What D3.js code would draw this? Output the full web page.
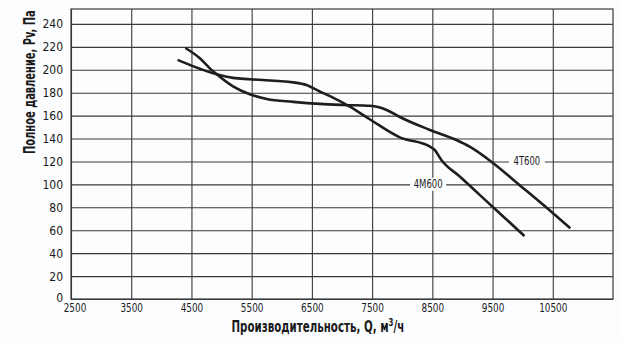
<!DOCTYPE html>
<html>
<head>
<meta charset="utf-8">
<script src="https://cdn.jsdelivr.net/npm/d3@7"></script>
<style>
  html, body { margin: 0; padding: 0; background: #fcfdff; }
  svg { display: block; }
  .narrow { font-family: 'Liberation Sans Narrow', 'DejaVu Sans Condensed', 'Roboto', sans-serif; }
</style>
</head>
<body>
<svg id="chart" width="621" height="342"></svg>
<script>
// Airflow Q (m³/h) versus total pressure Pv (Pa) for two fans
const series4T600 = [
  [4400, 219], [4640, 210], [4810, 201], [4920, 196], [5190, 185.5],
  [5470, 178.6], [5750, 174.5], [6190, 172], [6630, 170.2], [7020, 169.3],
  [7460, 168.6], [7600, 167.6], [7760, 164.5], [7960, 158.8], [8460, 147.5],
  [8900, 138.7], [9120, 132.9], [9480, 119.8], [9950, 99.3], [10500, 75], [10790, 61.7]
];
const series4M600 = [
  [4270, 208.6], [4920, 196], [5190, 192.9], [5470, 191.7], [6190, 189],
  [6410, 186.7], [6630, 181], [6800, 177], [7130, 167.8], [7460, 156.8],
  [7960, 141], [8460, 132.9], [8540, 130], [8650, 121.3], [8960, 106.7],
  [9500, 80.5], [10030, 55]
];
const seriesNames = ["4T600", "4M600"];
// label anchors, in data units (Q, Pv)
const labelAnchors = [[10070, 120], [8430, 100]];

const xTicks = [2500, 3500, 4500, 5500, 6500, 7500, 8500, 9500, 10500];
const yTicks = [0, 20, 40, 60, 80, 100, 120, 140, 160, 180, 200, 220, 240];
const xTitle = "Производительность, Q, м";
const yTitle = "Полное давление, Pv, Па";

const svg = d3.select("#chart");
const plotL = 71, plotR = 613, plotT = 9, plotB = 299;
const x = d3.scaleLinear().domain([2500, 11500]).range([plotL, plotR]);
const y = d3.scaleLinear().domain([0, 253]).range([plotB, plotT]);

const gridColor = "#3a3a3a";

// vertical grid + x tick labels
const xAxis = svg.append("g")
  .attr("transform", `translate(0,${plotB})`)
  .call(d3.axisBottom(x).tickValues(xTicks).tickSize(-(plotB - plotT)).tickPadding(3)
        .tickFormat(d3.format("d")));
xAxis.select(".domain").remove();
xAxis.selectAll(".tick line").attr("stroke", gridColor).attr("stroke-width", 1.1);
xAxis.selectAll(".tick text")
  .attr("class", "narrow")
  .attr("font-size", 13)
  .attr("fill", "#1a1a1a")
  .attr("dy", "0.78em")
  .attr("transform", (d, i) => `translate(${i === 0 ? 3.5 : 0},0) scale(0.76,1)`);

// horizontal grid + y tick labels
const yAxis = svg.append("g")
  .attr("transform", `translate(${plotL},0)`)
  .call(d3.axisLeft(y).tickValues(yTicks).tickSize(-(plotR - plotL)).tickPadding(8));
yAxis.select(".domain").remove();
yAxis.selectAll(".tick line").attr("stroke", gridColor).attr("stroke-width", 1.1);
yAxis.selectAll(".tick text")
  .attr("class", "narrow")
  .attr("font-size", 12)
  .attr("fill", "#1a1a1a")
  .attr("dy", (d) => d === 0 ? "0.2em" : "0.34em");

// plot frame
svg.append("rect")
  .attr("x", plotL).attr("y", plotT)
  .attr("width", plotR - plotL).attr("height", plotB - plotT)
  .attr("fill", "none").attr("stroke", gridColor).attr("stroke-width", 1.2);

// characteristic curves
const line = d3.line()
  .x(d => x(d[0])).y(d => y(d[1]))
  .curve(d3.curveMonotoneX);

[series4T600, series4M600].forEach(s => {
  svg.append("path")
    .datum(s)
    .attr("d", line)
    .attr("fill", "none")
    .attr("stroke", "#1f1d1e")
    .attr("stroke-width", 2.6)
    .attr("stroke-linecap", "butt");
});

// curve names with a background patch over the grid
seriesNames.forEach((name, i) => {
  const cx = x(labelAnchors[i][0]), cy = y(labelAnchors[i][1]);
  svg.append("rect")
    .attr("x", cx - 18).attr("y", cy - 6.5)
    .attr("width", 36).attr("height", 13)
    .attr("fill", "#fcfdff");
  svg.append("text")
    .attr("class", "narrow")
    .attr("x", 0).attr("y", 0)
    .attr("transform", `translate(${cx},${cy}) scale(0.82,1)`)
    .attr("text-anchor", "middle")
    .attr("dy", "0.35em")
    .attr("font-size", 11.5)
    .attr("fill", "#1a1a1a")
    .text(name);
});

// axis titles, squeezed horizontally to a condensed width
function fitWidth(sel, tx, ty, rot, width) {
  const w = sel.node().getBBox().width;
  const s = Math.min(1, width / w);
  sel.attr("transform", `translate(${tx},${ty}) rotate(${rot}) scale(${s},1)`);
}

const xt = svg.append("text")
  .attr("class", "narrow")
  .attr("x", 0).attr("y", 0)
  .attr("font-size", 16)
  .attr("font-weight", "bold")
  .attr("fill", "#1a1a1a");
xt.append("tspan").text(xTitle);
xt.append("tspan").attr("font-size", 11).attr("dy", -6).text("3");
xt.append("tspan").attr("dy", 6).text("/ч");
fitWidth(xt, 231.5, 331.5, 0, 173);

const yt = svg.append("text")
  .attr("class", "narrow")
  .attr("x", 0).attr("y", 0)
  .attr("font-size", 16)
  .attr("font-weight", "bold")
  .attr("fill", "#1a1a1a")
  .text(yTitle);
fitWidth(yt, 35, 154, -90, 144);
</script>
</body>
</html>
